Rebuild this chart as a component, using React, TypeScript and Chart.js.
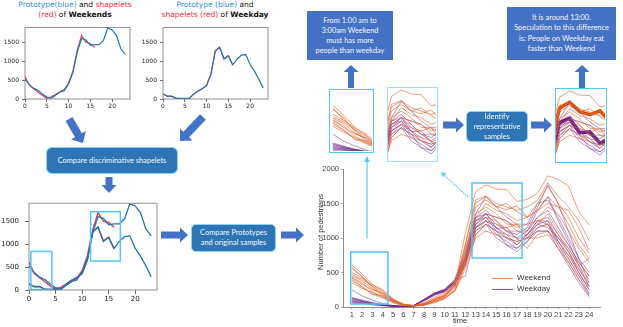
import React, { useEffect, useRef } from "react";
import { Chart, registerables } from "chart.js";
Chart.register(...registerables);

// ---------- DATA ----------
const PROTO_HOURS = [0, 1, 2, 3, 4, 5, 6, 7, 8, 9, 10, 11, 12, 13, 14, 15, 16, 17, 18, 19, 20, 21, 22, 23];
const WEEKEND_PROTOTYPE = [520, 380, 280, 230, 130, 50, 20, 100, 180, 220, 400, 700, 1250, 1600, 1560, 1420, 1440, 1440, 1550, 1880, 1830, 1680, 1330, 1180];
const WEEKEND_SHAPELET = [600, 360, 270, 180, 90, 20, 60, 120, 190, 250, 420, 740, 1300, 1680, 1500, 1470, 1370, null, null, null, null, null, null, null];
const WEEKDAY_PROTOTYPE = [127, 76, 76, 17, 15, 15, 17, 127, 212, 271, 356, 652, 1262, 1372, 1059, 1143, 906, 1059, 1160, 1177, 906, 737, 525, 288];
const WEEKDAY_SHAPELET = [140, 70, 70, 15, 10, 10, 10, 130, 210, 270, 360, 660, 1280, 1360, 1070, 1150, 900, null, null, null, null, null, null, null];
const PROTO_X_TICKS = [0, 5, 10, 15, 20];
const PROTO_Y_TICKS = [0, 500, 1000, 1500];
const SHAPELET_BOXES = [[0.35, 4.3, 10, 840], [11.6, 17.2, 630, 1705]];

const TIME = [1, 2, 3, 4, 5, 6, 7, 8, 9, 10, 11, 12, 13, 14, 15, 16, 17, 18, 19, 20, 21, 22, 23, 24];
const TIME_TICKS = [1, 2, 3, 4, 5, 6, 7, 8, 9, 10, 11, 12, 13, 14, 15, 16, 17, 18, 19, 20, 21, 22, 23, 24];
const PED_Y_TICKS = [0, 500, 1000, 1500, 2000];
const WEEKEND_SAMPLES = [
  [420, 330, 250, 200, 90, 30, 15, 30, 110, 160, 330, 1070, 1675, 1770, 1710, 1700, 1530, 1560, 1650, 1900, 1850, 1750, 1380, 1190],
  [610, 480, 330, 230, 110, 40, 20, 40, 120, 180, 340, 900, 1550, 1610, 1500, 1450, 1400, 1450, 1550, 1800, 1600, 1450, 1250, 960],
  [580, 430, 300, 180, 90, 40, 20, 60, 140, 200, 360, 800, 1450, 1550, 1450, 1500, 1380, 1300, 1500, 1750, 1500, 1300, 1000, 780],
  [560, 450, 280, 160, 80, 30, 15, 50, 100, 160, 330, 750, 1300, 1500, 1400, 1350, 1250, 1300, 1400, 1500, 1450, 1400, 1150, 820],
  [450, 380, 260, 200, 100, 30, 15, 40, 90, 150, 300, 700, 1350, 1450, 1350, 1200, 1200, 1100, 1300, 1450, 1350, 1100, 850, 650],
  [430, 350, 220, 150, 70, 25, 15, 30, 80, 140, 280, 650, 1150, 1300, 1250, 1100, 1100, 1050, 1200, 1350, 1100, 900, 650, 450],
  [400, 300, 180, 170, 90, 35, 20, 30, 70, 130, 250, 600, 1050, 1200, 1100, 1050, 1000, 850, 1050, 1100, 900, 700, 450, 300],
  [380, 290, 190, 130, 60, 20, 10, 25, 60, 120, 230, 550, 1000, 1100, 1050, 1000, 950, 1000, 1000, 1050, 850, 650, 400, 200],
  [350, 270, 210, 140, 80, 30, 15, 30, 80, 120, 240, 620, 1100, 1250, 1200, 1150, 1200, 1000, 1150, 1200, 950, 750, 550, 350],
  [500, 420, 320, 250, 120, 40, 20, 50, 110, 170, 320, 850, 1250, 1350, 1300, 1250, 1150, 1200, 1250, 1250, 1050, 850, 600, 400],
];
const WEEKDAY_SAMPLES = [
  [250, 160, 100, 50, 20, 10, 20, 100, 190, 240, 380, 700, 1250, 1350, 1200, 1100, 1050, 1150, 1450, 1770, 1500, 1100, 700, 350],
  [140, 100, 60, 40, 20, 10, 20, 110, 200, 250, 400, 750, 1300, 1400, 1250, 1100, 1000, 1100, 1400, 1600, 1250, 950, 600, 300],
  [120, 90, 60, 30, 15, 10, 20, 90, 180, 230, 360, 680, 1200, 1300, 1150, 1000, 900, 1050, 1250, 1300, 1050, 800, 500, 250],
  [100, 80, 50, 30, 15, 8, 20, 100, 190, 220, 350, 650, 1150, 1250, 1050, 950, 850, 1000, 1200, 1250, 950, 700, 450, 200],
  [80, 70, 50, 30, 15, 8, 20, 110, 200, 250, 370, 700, 1250, 1300, 1100, 900, 850, 950, 1150, 1200, 900, 650, 400, 170],
  [60, 50, 40, 20, 10, 5, 20, 100, 180, 240, 350, 640, 1100, 1200, 1000, 900, 800, 950, 1100, 1100, 850, 600, 350, 150],
  [130, 90, 60, 30, 15, 8, 20, 100, 200, 260, 400, 800, 1350, 1600, 1450, 1300, 1200, 1200, 1500, 1550, 1300, 1000, 700, 500],
  [90, 60, 40, 25, 10, 6, 20, 90, 170, 220, 340, 620, 1200, 1350, 1300, 1250, 1100, 1100, 1300, 1400, 1150, 900, 650, 450],
  [70, 60, 40, 25, 10, 5, 20, 90, 170, 230, 340, 600, 1150, 1250, 1150, 1050, 900, 1050, 1200, 1150, 1000, 850, 600, 700],
  [50, 50, 30, 20, 10, 5, 20, 110, 200, 250, 380, 450, 1050, 1200, 1100, 1000, 950, 1000, 1100, 1100, 950, 750, 500, 250],
];
const REP_WEEKEND = [470, 400, 300, 220, 100, 30, 15, 40, 100, 160, 300, 900, 1510, 1600, 1455, 1410, 1470, 1300, 1400, 1600, 1450, 1200, 900, 700];
const REP_WEEKDAY = [110, 80, 50, 30, 12, 8, 20, 100, 190, 240, 370, 720, 1296, 1354, 1138, 1152, 979, 1050, 1250, 1200, 1000, 800, 550, 300];
const PED_BOXES = [[0.9, 4.5, 43, 797], [12.65, 17.5, 710, 1797]];
const CROP_EARLY = [0.75, 4.5, 40, 800];
const CROP_NOON = [12.65, 17.5, 710, 1800];

// ---------- STYLE ----------
const BLUE = "#1f77b4";
const RED = "rgba(228,30,52,0.85)";
const ORANGE = "rgba(224,100,45,0.62)";
const PURPLE = "rgba(118,42,140,0.5)";
const CYAN = "#55c6f2";
const ARROW = "#4472c4";

const toPts = (xs: number[], ys: (number | null)[]) => xs.map((x, i) => ({ x, y: ys[i] }));
const plain = (v: any) => String(v);

const framePlugin = (color: string) => ({
  id: "frame",
  afterDraw(chart: any) {
    const { ctx, chartArea } = chart;
    ctx.save();
    ctx.strokeStyle = color;
    ctx.lineWidth = 0.8;
    ctx.strokeRect(chartArea.left, chartArea.top, chartArea.right - chartArea.left, chartArea.bottom - chartArea.top);
    ctx.restore();
  },
});

const boxesPlugin = (boxes: number[][], color: string, lw: number) => ({
  id: "boxes",
  afterDatasetsDraw(chart: any) {
    const { ctx, scales } = chart;
    ctx.save();
    ctx.strokeStyle = color;
    ctx.lineWidth = lw;
    boxes.forEach(([x0, x1, y0, y1]) => {
      const a = scales.x.getPixelForValue(x0);
      const b = scales.x.getPixelForValue(x1);
      const c = scales.y.getPixelForValue(y1);
      const d = scales.y.getPixelForValue(y0);
      ctx.strokeRect(a, c, b - a, d - c);
    });
    ctx.restore();
  },
});

function protoConfig(datasets: any[], o: any) {
  const font = { family: "DejaVu Sans", size: o.font };
  const grid = { display: true, drawOnChartArea: false, drawTicks: true, tickLength: o.tickLen, color: "#333", lineWidth: 0.7 };
  return {
    type: "line",
    data: { datasets },
    options: {
      responsive: false,
      animation: false,
      events: [],
      layout: { padding: { top: o.padTop, right: o.padRight, left: 0, bottom: 0 } },
      plugins: { legend: { display: false }, tooltip: { enabled: false } },
      elements: { point: { radius: 0 }, line: { tension: 0 } },
      scales: {
        x: {
          type: "linear", min: 0, max: 24.1,
          afterBuildTicks: (s: any) => { s.ticks = PROTO_X_TICKS.map((v) => ({ value: v })); },
          afterFit: (s: any) => { s.height = o.xH; },
          grid, border: { display: false },
          ticks: { font, color: "#222", padding: 1, maxRotation: 0, autoSkip: false, callback: plain },
        },
        y: {
          type: "linear", min: 0, max: 1890,
          afterBuildTicks: (s: any) => { s.ticks = PROTO_Y_TICKS.map((v) => ({ value: v })); },
          afterFit: (s: any) => { s.width = o.yW; },
          grid, border: { display: false },
          ticks: { font, color: "#222", padding: o.yPad, autoSkip: false, callback: plain },
        },
      },
    },
    plugins: [framePlugin("#777"), ...(o.boxes ? [boxesPlugin(o.boxes, CYAN, 1.5)] : [])],
  };
}

const line = (xs: number[], ys: (number | null)[], color: string, w: number) => ({
  data: toPts(xs, ys), borderColor: color, borderWidth: w, spanGaps: false, fill: false,
});

function sampleSets(w: number) {
  return [
    ...WEEKEND_SAMPLES.map((s) => line(TIME, s, ORANGE, w)),
    line(TIME, REP_WEEKEND, ORANGE, w),
    ...WEEKDAY_SAMPLES.map((s) => line(TIME, s, PURPLE, w)),
    line(TIME, REP_WEEKDAY, PURPLE, w),
  ];
}

function pedConfig() {
  const font = { family: "Liberation Sans", size: 7.5 };
  const grid = { display: true, drawOnChartArea: false, drawTicks: true, tickLength: 2, color: "#8c8c8c", lineWidth: 0.8 };
  return {
    type: "line",
    data: { datasets: sampleSets(1) },
    options: {
      responsive: false,
      animation: false,
      events: [],
      layout: { padding: { top: 9, right: 10, left: 0, bottom: 0 } },
      plugins: { legend: { display: false }, tooltip: { enabled: false } },
      elements: { point: { radius: 0 }, line: { tension: 0 } },
      scales: {
        x: {
          type: "linear", min: 0.15, max: 25.05,
          afterBuildTicks: (s: any) => { s.ticks = TIME_TICKS.map((v) => ({ value: v })); },
          afterFit: (s: any) => { s.height = 13; },
          grid, border: { display: true, color: "#8c8c8c", width: 1 },
          ticks: { font, color: "#444", padding: 1, maxRotation: 0, minRotation: 0, autoSkip: false, callback: plain },
        },
        y: {
          type: "linear", min: 0, max: 2000,
          afterBuildTicks: (s: any) => { s.ticks = PED_Y_TICKS.map((v) => ({ value: v })); },
          afterFit: (s: any) => { s.width = 43; },
          grid, border: { display: true, color: "#8c8c8c", width: 1 },
          ticks: { font, color: "#444", padding: 2, autoSkip: false, callback: plain },
        },
      },
    },
    plugins: [boxesPlugin(PED_BOXES, CYAN, 1.5)],
  };
}

function cropConfig(datasets: any[], r: number[]) {
  return {
    type: "line",
    data: { datasets },
    options: {
      responsive: false,
      animation: false,
      events: [],
      layout: { padding: 0 },
      plugins: { legend: { display: false }, tooltip: { enabled: false } },
      elements: { point: { radius: 0 }, line: { tension: 0 } },
      scales: {
        x: { type: "linear", display: false, min: r[0], max: r[1] },
        y: { type: "linear", display: false, min: r[2], max: r[3] },
      },
    },
  };
}

function ChartAt({ left, top, width, height, make }: any) {
  const ref = useRef<HTMLCanvasElement>(null);
  useEffect(() => {
    const c = new Chart(ref.current as any, make());
    return () => c.destroy();
  }, []);
  return (
    <canvas ref={ref} width={width} height={height}
      style={{ position: "absolute", left, top, width, height }} />
  );
}

function fatArrow(x1: number, y1: number, x2: number, y2: number, shaft: number, head: number, headLen: number) {
  const dx = x2 - x1, dy = y2 - y1, L = Math.hypot(dx, dy);
  const ux = dx / L, uy = dy / L, px = -uy, py = ux;
  const bx = x2 - ux * headLen, by = y2 - uy * headLen;
  const p = [
    [x1 + px * shaft / 2, y1 + py * shaft / 2],
    [bx + px * shaft / 2, by + py * shaft / 2],
    [bx + px * head / 2, by + py * head / 2],
    [x2, y2],
    [bx - px * head / 2, by - py * head / 2],
    [bx - px * shaft / 2, by - py * shaft / 2],
    [x1 - px * shaft / 2, y1 - py * shaft / 2],
  ];
  return p.map((q) => q.join(",")).join(" ");
}

function TextBox({ left, top, width, height, lines, bg, radius, border, lh }: any) {
  return (
    <div style={{
      position: "absolute", left, top, width, height, boxSizing: "border-box",
      background: bg, borderRadius: radius || 0, border: border || "none",
      display: "flex", alignItems: "center", justifyContent: "center",
      color: "#f4f6fb", fontFamily: "Lato", fontSize: 7.4, lineHeight: `${lh || 10}px`,
      textAlign: "center", whiteSpace: "nowrap",
    }}>
      <div>{lines.map((l: string, i: number) => <div key={i}>{l}</div>)}</div>
    </div>
  );
}

const TBLUE = "#2b8fd8";
const TRED = "#e8323c";

export default function App() {
  const titleStyle: any = {
    position: "absolute", top: 0, width: 150, textAlign: "center",
    fontFamily: "DejaVu Sans", fontSize: 7.5, lineHeight: "10px", color: "#111", whiteSpace: "nowrap",
  };
  return (
    <div style={{ position: "fixed", left: 0, top: 0, width: 623, height: 327, background: "#fff", overflow: "hidden" }}>
      {/* titles of prototype charts */}
      <div style={{ ...titleStyle, left: 0 }}>
        <span style={{ color: TBLUE }}>Prototype(blue)</span> and <span style={{ color: TRED }}>shapelets</span><br />
        <span style={{ color: TRED }}>(red)</span> of <b>Weekends</b>
      </div>
      <div style={{ ...titleStyle, left: 140 }}>
        <span style={{ color: TBLUE }}>Prototype (blue)</span> and<br />
        <span style={{ color: TRED }}>shapelets (red)</span> of <b>Weekday</b>
      </div>

      <ChartAt left={2} top={21} width={131} height={92}
        make={() => protoConfig([
          line(PROTO_HOURS, WEEKEND_PROTOTYPE, BLUE, 1.2),
          line(PROTO_HOURS, WEEKEND_SHAPELET, RED, 1.2),
        ], { font: 6, tickLen: 3, yPad: 3, padTop: 4, padRight: 3, xH: 14, yW: 23 })} />
      <ChartAt left={140} top={21} width={131} height={92}
        make={() => protoConfig([
          line(PROTO_HOURS, WEEKDAY_PROTOTYPE, BLUE, 1.2),
          line(PROTO_HOURS, WEEKDAY_SHAPELET, RED, 1.2),
        ], { font: 6, tickLen: 3, yPad: 3, padTop: 4, padRight: 3, xH: 14, yW: 23 })} />
      <ChartAt left={0} top={193} width={160} height={111}
        make={() => protoConfig([
          line(PROTO_HOURS, WEEKEND_PROTOTYPE, BLUE, 1.3),
          line(PROTO_HOURS, WEEKDAY_PROTOTYPE, BLUE, 1.3),
          line(PROTO_HOURS, WEEKEND_SHAPELET, RED, 1.5),
          line(PROTO_HOURS, WEEKDAY_SHAPELET, RED, 1.5),
        ], { font: 7, tickLen: 4, yPad: 6, padTop: 5, padRight: 3, xH: 14, yW: 29, boxes: SHAPELET_BOXES })} />

      {/* main pedestrians chart */}
      <ChartAt left={300} top={160} width={310} height={160} make={pedConfig} />
      <div style={{
        position: "absolute", left: 321 - 50, top: 232 - 5, width: 100, height: 10, lineHeight: "10px",
        textAlign: "center", transform: "rotate(-90deg)", fontFamily: "Liberation Sans", fontSize: 7.5, color: "#333", whiteSpace: "nowrap",
      }}>Number of pedestrians</div>
      <div style={{
        position: "absolute", left: 440, top: 316, width: 40, textAlign: "center", lineHeight: "10px",
        fontFamily: "Liberation Sans", fontSize: 7.5, color: "#333",
      }}>time</div>
      {/* legend */}
      <div style={{ position: "absolute", left: 492, top: 277.5, width: 21, height: 1.2, background: "rgba(224,100,45,0.75)" }} />
      <div style={{ position: "absolute", left: 492, top: 288.5, width: 21, height: 1.2, background: "rgba(118,42,140,0.8)" }} />
      <div style={{ position: "absolute", left: 517, top: 273, lineHeight: "10px", fontFamily: "Liberation Sans", fontSize: 8, color: "#333" }}>Weekend</div>
      <div style={{ position: "absolute", left: 517, top: 284, lineHeight: "10px", fontFamily: "Liberation Sans", fontSize: 8, color: "#333" }}>Weekday</div>

      {/* crops */}
      <div style={{ position: "absolute", left: 329, top: 89, width: 45, height: 64, boxSizing: "border-box", border: `1.5px solid ${CYAN}`, overflow: "hidden" }}>
        <ChartAt left={0} top={0} width={42} height={61} make={() => cropConfig(sampleSets(1), CROP_EARLY)} />
      </div>
      <div style={{ position: "absolute", left: 387, top: 87, width: 51, height: 75, boxSizing: "border-box", border: `1.5px solid #9fdcf6`, overflow: "hidden" }}>
        <ChartAt left={0} top={0} width={48} height={72} make={() => cropConfig(sampleSets(1), CROP_NOON)} />
      </div>
      <div style={{ position: "absolute", left: 555, top: 88, width: 52, height: 75, boxSizing: "border-box", border: `1.5px solid ${CYAN}`, overflow: "hidden" }}>
        <ChartAt left={0} top={0} width={49} height={72} make={() => cropConfig([
          ...sampleSets(1),
          line(TIME, REP_WEEKEND, "#d9530f", 3.5),
          line(TIME, REP_WEEKDAY, "#6e1f8c", 3.5),
        ], CROP_NOON)} />
      </div>

      {/* text boxes */}
      <TextBox left={307} top={11} width={86} height={49} bg="#4472c4"
        lines={["From 1:00 am to", "3:00am Weekend", "must has more", "people than weekday"]} />
      <TextBox left={507} top={7} width={109} height={53} bg="#4472c4" lh={10.3}
        lines={["It is around 13:00.", "Speculation to this difference", "is: People on Weekday eat", "faster than Weekend"]} />
      <TextBox left={466} top={111} width={62} height={31} bg="#2e75b6" radius={5} border="1px solid #8fd3f4"
        lines={["Identify", "representative", "samples"]} />
      <TextBox left={46} top={147} width={132} height={27} bg="#2e75b6" radius={6} border="1px solid #8fd3f4"
        lines={["Compare discriminative shapelets"]} />
      <TextBox left={191} top={224} width={85} height={28} bg="#2e75b6" radius={5} border="1px solid #8fd3f4"
        lines={["Compare Prototypes", "and  original samples"]} />

      {/* arrows */}
      <svg width={623} height={327} style={{ position: "absolute", left: 0, top: 0, pointerEvents: "none" }}>
        <polygon fill={ARROW} points={fatArrow(69, 119, 83, 143, 8, 17, 9)} />
        <polygon fill={ARROW} points={fatArrow(203, 117, 180, 141, 8, 17, 9)} />
        <polygon fill={ARROW} points={fatArrow(109, 177, 109, 193, 7, 15, 8)} />
        <polygon fill={ARROW} points={fatArrow(161, 235, 188, 235, 7, 15, 8)} />
        <polygon fill={ARROW} points={fatArrow(281, 235, 304, 235, 7, 15, 8)} />
        <polygon fill={ARROW} points={fatArrow(443, 125, 464, 125, 7, 15, 8)} />
        <polygon fill={ARROW} points={fatArrow(531, 125, 552, 125, 7, 15, 8)} />
        <polygon fill={ARROW} points={fatArrow(351, 88, 351, 65, 6, 15, 7)} />
        <polygon fill={ARROW} points={fatArrow(582, 88, 582, 65, 6, 15, 7)} />
        <line x1={367} y1={238} x2={367} y2={160} stroke={CYAN} strokeWidth={1.2} />
        <polygon fill={CYAN} points="364,162 370,162 367,156" />
        <line x1={468} y1={197} x2={445} y2={176} stroke={CYAN} strokeWidth={1.2} strokeDasharray="1.5,1" />
        <polygon fill={CYAN} points={fatArrow(446, 177, 441, 172, 0, 5, 5)} />
      </svg>
    </div>
  );
}
